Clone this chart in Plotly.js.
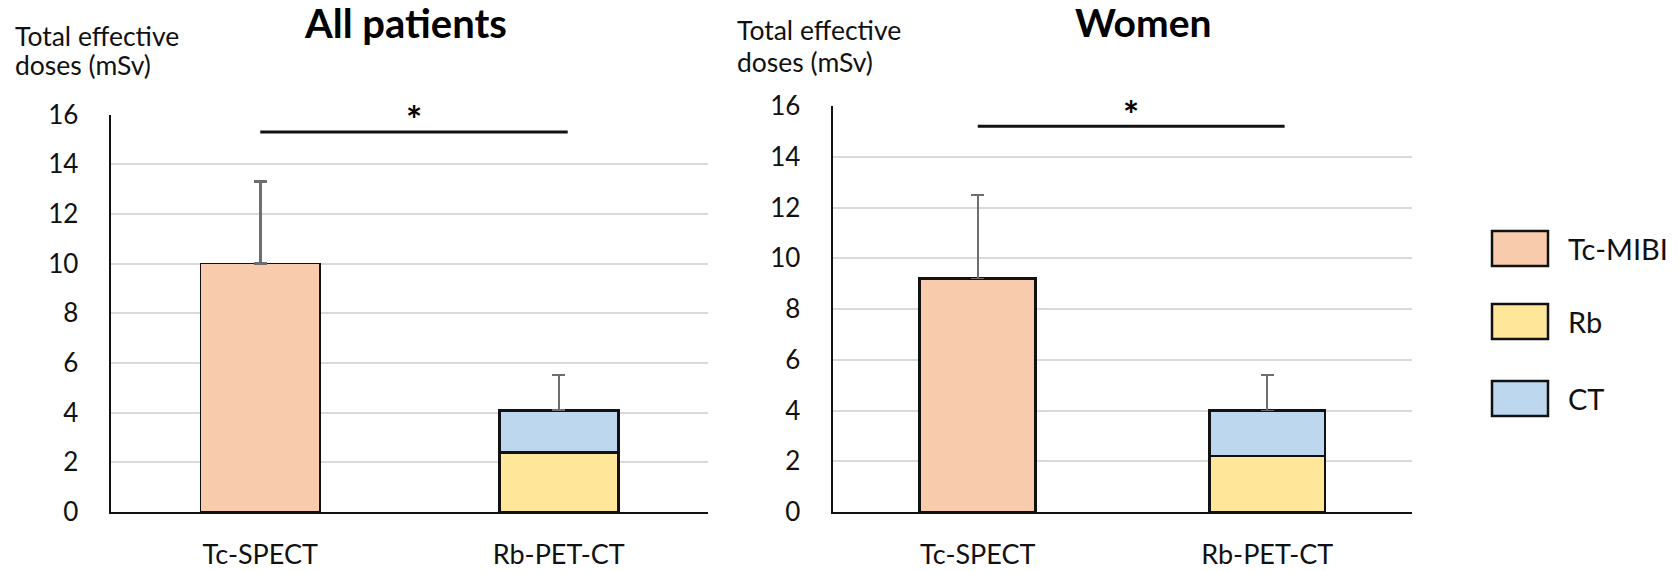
<!DOCTYPE html>
<html>
<head>
<meta charset="utf-8">
<script src="https://cdn.plot.ly/plotly-3.0.1.min.js"></script>
<style>html,body{margin:0;padding:0;background:#fff;}#chart{width:1680px;height:571px;}</style>
</head>
<body>
<div id="chart"></div>
<script>
// ---------- data ----------
const categories = ['Tc-SPECT', 'Rb-PET-CT'];
const seriesNames = ['Tc-MIBI', 'Rb', 'CT'];
const panelTitles = ['All patients', 'Women'];
const yTitleLines = ['Total effective', 'doses (mSv)'];
const yTicks = [0, 2, 4, 6, 8, 10, 12, 14, 16];

// All patients (mSv)
const allTcMibi = [10.0];      // Tc-SPECT
const allTcMibiErr = [3.3];
const allRb = [2.4];           // Rb-PET-CT, Rb part
const allCT = [1.7];           // Rb-PET-CT, CT part (stacked on Rb)
const allPetErr = [1.4];
const allSigY = 15.3;

// Women (mSv)
const womenTcMibi = [9.2];
const womenTcMibiErr = [3.3];
const womenRb = [2.2];
const womenCT = [1.8];
const womenPetErr = [1.4];
const womenSigY = 15.2;

// ---------- styling ----------
const W = 1680, H = 571;
const px = x => x / W;
const py = y => 1 - y / H;
const FONT = 'Lato, "Open Sans", sans-serif';
const TXT = '#111111';
const colors = ['#F8CBAD', '#FFE699', '#BDD7EE'];
const errColor = '#6e6e6e';

function panel(k, tc, tcErr, rb, ct, petErr, outline) {
  const xa = k === 0 ? 'x' : 'x2', ya = k === 0 ? 'y' : 'y2';
  return [
    {type: 'bar', name: seriesNames[0], x: [categories[0]], y: tc, xaxis: xa, yaxis: ya,
     width: 0.4, marker: {color: colors[0], line: {color: '#111', width: outline[0]}},
     error_y: {type: 'data', symmetric: false, array: tcErr, arrayminus: [0], color: errColor, thickness: outline[2], width: 6.5},
     showlegend: false, hoverinfo: 'skip'},
    {type: 'bar', name: seriesNames[1], x: [categories[1]], y: rb, xaxis: xa, yaxis: ya,
     width: 0.4, marker: {color: colors[1], line: {color: '#111', width: outline[1]}},
     showlegend: false, hoverinfo: 'skip'},
    {type: 'bar', name: seriesNames[2], x: [categories[1]], y: ct, xaxis: xa, yaxis: ya,
     width: 0.4, marker: {color: colors[2], line: {color: '#111', width: outline[1]}},
     error_y: {type: 'data', symmetric: false, array: petErr, arrayminus: [0], color: errColor, thickness: 1.8, width: 6.5},
     showlegend: false, hoverinfo: 'skip'}
  ];
}

const data = [].concat(
  panel(0, allTcMibi, allTcMibiErr, allRb, allCT, allPetErr, [1.8, 3, 2.8]),
  panel(1, womenTcMibi, womenTcMibiErr, womenRb, womenCT, womenPetErr, [3, 2.6, 1.8])
);

function xaxis(domain) {
  return {domain: domain, type: 'category', categoryorder: 'array', categoryarray: categories,
    range: [-0.5, 1.5], showgrid: false, zeroline: false, showline: true, linecolor: '#111', linewidth: 2,
    ticks: '', ticklabelstandoff: 18, tickfont: {family: FONT, size: 27, color: TXT}, fixedrange: true};
}
function yaxis(domain, anchor) {
  return {domain: domain, anchor: anchor, range: [0, 16], tickvals: yTicks, ticktext: yTicks.map(String),
    showgrid: true, gridcolor: '#d9d9d9', gridwidth: 2, zeroline: false, showline: true, linecolor: '#111', linewidth: 2.5,
    ticks: '', ticklabelstandoff: 25, tickfont: {family: FONT, size: 26, color: TXT}, fixedrange: true};
}

const panels = [
  {xd: [px(111), px(708)], yd: [py(512), py(114.5)], title: [405, 23], tsize: 40, ytitle: [13, 36, 65], sigY: allSigY, sigEnd: 1.03, xa: 'x', ya: 'y'},
  {xd: [px(833), px(1412)], yd: [py(512), py(106)], title: [1143, 22], tsize: 39, ytitle: [735, 30, 62], sigY: womenSigY, sigEnd: 1.06, xa: 'x2', ya: 'y2'}
];

const shapes = [], annotations = [];
panels.forEach((p, i) => {
  annotations.push({xref: 'paper', yref: 'paper', x: px(p.title[0]), y: py(p.title[1]), xanchor: 'center', yanchor: 'middle',
    text: '<b>' + panelTitles[i] + '</b>', showarrow: false, font: {family: FONT, size: p.tsize, color: '#000'}});
  yTitleLines.forEach((t, j) => annotations.push({xref: 'paper', yref: 'paper', x: px(p.ytitle[0]), y: py(p.ytitle[1 + j]),
    xanchor: 'left', yanchor: 'middle', text: t, showarrow: false, font: {family: FONT, size: 26.5, color: TXT}}));
  // significance bracket
  shapes.push({type: 'line', xref: p.xa, yref: p.ya, x0: 0, x1: p.sigEnd, y0: p.sigY, y1: p.sigY, line: {color: '#111', width: 3}});
  annotations.push({xref: p.xa, yref: p.ya, x: p.sigEnd / 2, y: p.sigY + 0.5, xanchor: 'center', yanchor: 'middle',
    text: '<b>*</b>', showarrow: false, font: {family: FONT, size: 38, color: '#000'}});
});

// legend (drawn as swatches + labels)
const legendRows = [231, 304, 381];
seriesNames.forEach((n, i) => {
  const top = legendRows[i];
  shapes.push({type: 'rect', xref: 'paper', yref: 'paper', x0: px(1492), x1: px(1548), y0: py(top), y1: py(top + 35),
    fillcolor: colors[i], line: {color: '#111', width: 2.5}});
  annotations.push({xref: 'paper', yref: 'paper', x: px(1566), y: py(top + 17.5), xanchor: 'left', yanchor: 'middle',
    text: n, showarrow: false, font: {family: FONT, size: 29, color: TXT}});
});

const layout = {
  width: W, height: H, margin: {l: 0, r: 0, t: 0, b: 0},
  paper_bgcolor: '#fff', plot_bgcolor: '#fff', barmode: 'stack', showlegend: false,
  xaxis: xaxis(panels[0].xd), yaxis: yaxis(panels[0].yd, 'x'),
  xaxis2: Object.assign(xaxis(panels[1].xd), {anchor: 'y2'}), yaxis2: yaxis(panels[1].yd, 'x2'),
  shapes: shapes, annotations: annotations
};
layout.xaxis.anchor = 'y';

Plotly.newPlot('chart', data, layout, {staticPlot: true, displayModeBar: false});
</script>
</body>
</html>
